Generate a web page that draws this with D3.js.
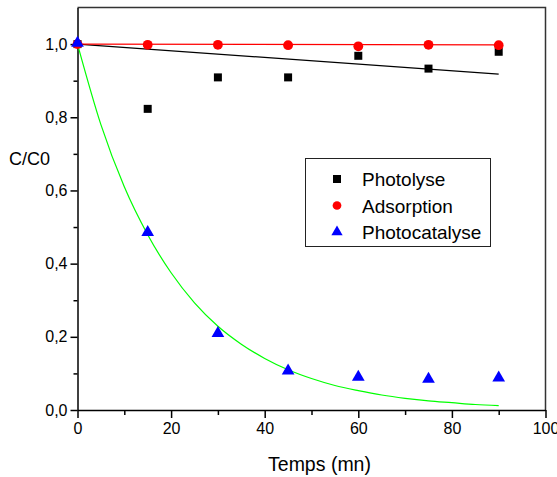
<!DOCTYPE html>
<html>
<head>
<meta charset="utf-8">
<script src="https://cdnjs.cloudflare.com/ajax/libs/d3/7.8.5/d3.min.js"></script>
<style>
  body { margin: 0; background: #fff; }
  text { font-family: "Liberation Sans", Arial, sans-serif; fill: #000; }
</style>
</head>
<body>
<svg id="chart" width="557" height="477"></svg>
<script>
// measured points
let times = [0, 15, 30, 45, 60, 75, 90];
let photolyse = [1.0, 0.823, 0.909, 0.909, 0.968, 0.933, 0.979];
let adsorption = [1.0, 0.998, 0.998, 0.997, 0.994, 0.998, 0.997];
let photocatalyse = [1.0, 0.483, 0.207, 0.104, 0.087, 0.082, 0.085];

// fitted curves
let linFitX = [0, 90];
let linPhotolyse = [1.0, 0.918];
let linAdsorption = [1.0, 0.998];
let expFitX = [0, 5, 10, 15, 20, 25, 30, 35, 40, 45, 50, 55, 60, 65, 70, 75, 80, 85, 90];
let expPhotocatalyse = [1.0, 0.78, 0.61, 0.479, 0.375, 0.293, 0.229, 0.18, 0.141, 0.11, 0.086, 0.067, 0.053, 0.041, 0.032, 0.025, 0.02, 0.015, 0.012];

let xTicks = [0, 20, 40, 60, 80, 100];
let yTicks = [0, 0.2, 0.4, 0.6, 0.8, 1.0];
let legendLabels = ["Photolyse", "Adsorption", "Photocatalyse"];

let svg = d3.select("#chart");
let mLeft = 77.5, mRight = 545.5, mTop = 7.5, mBottom = 410;

let x = d3.scaleLinear().domain([0, 100]).range([mLeft, mRight]);
let y = d3.scaleLinear().domain([0, 1.1]).range([mBottom, mTop]);

// frame (top and right)
svg.append("path")
  .attr("d", `M${mLeft},${mTop}H${mRight}V${mBottom}`)
  .attr("fill", "none")
  .attr("stroke", "#333")
  .attr("stroke-width", 1.5);

// x axis
let xAxis = svg.append("g").attr("transform", `translate(0,${mBottom})`);
xAxis.call(d3.axisBottom(x).tickValues(d3.range(10, 100, 20)).tickSize(5).tickFormat(""));
xAxis.call(g => g.selectAll(".domain").remove());
let xMajor = svg.append("g").attr("transform", `translate(0,${mBottom})`)
  .call(d3.axisBottom(x).tickValues(xTicks).tickSize(8).tickPadding(5).tickSizeOuter(0));
xMajor.selectAll("text").style("font-size", "16px");

// y axis
let yAxis = svg.append("g").attr("transform", `translate(${mLeft},0)`);
yAxis.call(d3.axisLeft(y).tickValues(d3.range(0.1, 1.1, 0.2)).tickSize(4).tickFormat(""));
yAxis.call(g => g.selectAll(".domain").remove());
let yMajor = svg.append("g").attr("transform", `translate(${mLeft},0)`)
  .call(d3.axisLeft(y).tickValues(yTicks).tickSize(7).tickPadding(3).tickSizeOuter(0)
    .tickFormat(d => d3.format(".1f")(d).replace(".", ",")));
yMajor.selectAll("text").style("font-size", "16px");

svg.selectAll(".domain, .tick line").attr("stroke", "#000").attr("stroke-width", 1.5);

// axis titles
svg.append("text")
  .attr("x", (mLeft + mRight) / 2 + 8)
  .attr("y", 471)
  .attr("text-anchor", "middle")
  .style("font-size", "19.5px")
  .text("Temps (mn)");
svg.append("text")
  .attr("x", 9)
  .attr("y", 165)
  .style("font-size", "18px")
  .text("C/C0");

// fit lines
let line = d3.line().x(d => x(d[0])).y(d => y(d[1]));
let fitLine = d3.line().x(d => x(d[0])).y(d => y(d[1])).curve(d3.curveMonotoneX);

svg.append("path")
  .attr("d", line(d3.zip(linFitX, linPhotolyse)))
  .attr("fill", "none").attr("stroke", "#000").attr("stroke-width", 1.2);
svg.append("path")
  .attr("d", line(d3.zip(linFitX, linAdsorption)))
  .attr("fill", "none").attr("stroke", "#ff0000").attr("stroke-width", 1.2);
svg.append("path")
  .attr("d", fitLine(d3.zip(expFitX, expPhotocatalyse)))
  .attr("fill", "none").attr("stroke", "#00ff00").attr("stroke-width", 1.2);

// markers
let sq = d3.symbol().type(d3.symbolSquare).size(64);
let ci = d3.symbol().type(d3.symbolCircle).size(75);
let tr = d3.symbol().type(d3.symbolTriangle).size(70);

svg.append("g").selectAll("path")
  .data(d3.zip(times, photolyse))
  .join("path")
  .attr("transform", d => `translate(${x(d[0])},${y(d[1])})`)
  .attr("d", sq).attr("fill", "#000");
svg.append("g").selectAll("path")
  .data(d3.zip(times, adsorption))
  .join("path")
  .attr("transform", d => `translate(${x(d[0])},${y(d[1])})`)
  .attr("d", ci).attr("fill", "#ff0000");
svg.append("g").selectAll("path")
  .data(d3.zip(times, photocatalyse))
  .join("path")
  .attr("transform", d => `translate(${x(d[0])},${y(d[1]) - 1})`)
  .attr("d", tr).attr("fill", "#0000ff");

// legend
let legend = svg.append("g");
legend.append("rect")
  .attr("x", 305.5).attr("y", 158.5)
  .attr("width", 185).attr("height", 88)
  .attr("fill", "#fff").attr("stroke", "#222").attr("stroke-width", 1);
let symbols = [
  { s: sq, c: "#000" },
  { s: d3.symbol().type(d3.symbolCircle).size(60), c: "#ff0000" },
  { s: d3.symbol().type(d3.symbolTriangle).size(55), c: "#0000ff" }
];
legendLabels.forEach((lab, i) => {
  let yy = 179 + i * 26.5;
  legend.append("path")
    .attr("transform", `translate(337,${yy})`)
    .attr("d", symbols[i].s).attr("fill", symbols[i].c);
  legend.append("text")
    .attr("x", 362).attr("y", yy + 7)
    .style("font-size", "19px")
    .text(lab);
});
</script>
</body>
</html>
